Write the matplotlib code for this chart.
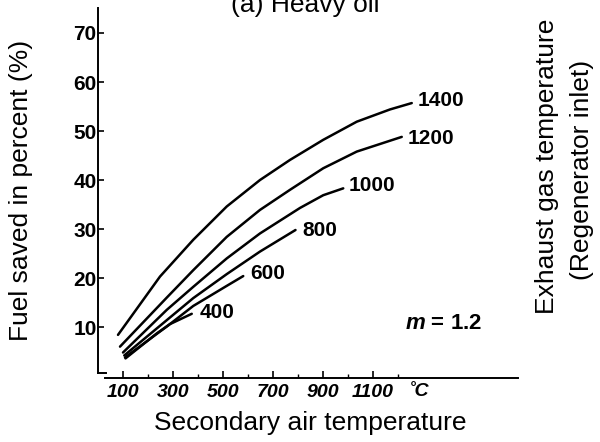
"""Fuel saved vs secondary air temperature, heavy oil (m = 1.2)."""

import matplotlib
matplotlib.use("Agg")
import matplotlib.pyplot as plt

plt.rcParams["font.family"] = ["Liberation Sans", "DejaVu Sans"]
plt.rcParams["mathtext.fontset"] = "custom"
plt.rcParams["mathtext.it"] = "Liberation Sans:italic:bold"

# --------------------------------------------------------------------------- #
# Data (x = secondary air temperature, y = fuel saved %)
# one curve per exhaust gas temperature
# --------------------------------------------------------------------------- #
T_1400 = [80, 248, 381, 515, 648, 768, 901, 1035, 1168, 1255]
V_1400 = [8.4, 20.3, 27.8, 34.6, 40.0, 44.1, 48.2, 51.9, 54.4, 55.7]

T_1200 = [88, 275, 381, 515, 648, 768, 901, 1035, 1215]
V_1200 = [6.0, 16.0, 21.6, 28.4, 33.9, 38.0, 42.4, 45.8, 48.8]

T_1000 = [100, 275, 381, 515, 648, 808, 901, 981]
V_1000 = [4.8, 13.5, 18.2, 24.0, 29.1, 34.3, 36.9, 38.3]

T_800 = [105, 275, 381, 515, 648, 790]
V_800 = [4.2, 11.4, 15.9, 20.8, 25.4, 29.8]

T_600 = [108, 275, 381, 515, 581]
V_600 = [3.8, 10.1, 14.3, 18.4, 20.4]

T_400 = [110, 235, 288, 375]
V_400 = [3.6, 8.7, 10.6, 12.7]

LABELS = ["1400", "1200", "1000", "800", "600", "400"]
SERIES = [(T_1400, V_1400), (T_1200, V_1200), (T_1000, V_1000),
          (T_800, V_800), (T_600, V_600), (T_400, V_400)]
LABEL_POS = [(1280, 56.3), (1240, 48.4), (1004, 38.8),
             (816, 29.6), (608, 21.0), (408, 12.9)]

X_TICKS = [100, 300, 500, 700, 900, 1100]
X_MINOR = [200, 400, 600, 800, 1000, 1200]
Y_TICKS = [10, 20, 30, 40, 50, 60, 70]


def main() -> None:
    fig = plt.figure(figsize=(6.0, 4.42), dpi=100)
    ax = fig.add_axes([98 / 600, 64 / 442, 420 / 600, 370 / 442])

    for label, (xs, ys), (lx, ly) in zip(LABELS, SERIES, LABEL_POS):
        ax.plot(xs, ys, color="black", lw=1.8,
                solid_capstyle="round", solid_joinstyle="round")
        ax.text(lx, ly, label, fontsize=15, fontweight="bold", ha="left", va="center")

    ax.text(1228, 10.8, "$m$ = 1.2", fontsize=16, fontweight="bold",
            ha="left", va="center")

    ax.set_xlim(0, 1680)
    ax.set_ylim(-0.4, 75.1)

    for side in ("top", "right"):
        ax.spines[side].set_visible(False)
    ax.spines["left"].set_bounds(0.6, 75.1)
    ax.spines["bottom"].set_bounds(28, 1680)
    ax.spines["left"].set_linewidth(1.4)
    ax.spines["bottom"].set_linewidth(1.4)
    # little step where the two axis lines meet
    ax.plot([0, 30], [0.6, 0.6], color="black", lw=1.4, clip_on=False)

    ax.set_yticks(Y_TICKS)
    ax.set_yticklabels([str(v) for v in Y_TICKS], fontsize=15, fontweight="bold")
    ax.set_xticks(X_TICKS)
    ax.set_xticklabels([str(v) for v in X_TICKS], fontsize=14,
                       fontweight="bold", fontstyle="italic")
    ax.set_xticks(X_MINOR, minor=True)
    ax.tick_params(axis="y", direction="in", length=4, width=1.2, pad=1)
    ax.tick_params(axis="x", which="major", direction="in", length=5, width=1.2, pad=4)
    ax.tick_params(axis="x", which="minor", direction="in", length=3, width=1.0)

    ax.text(1285, -1.5, "˚C", fontsize=14, fontweight="bold",
            fontstyle="italic", ha="center", va="top")

    fig.text(305 / 600, 1 - 12 / 442, "(a) Heavy oil", fontsize=19,
             ha="center", va="baseline")
    fig.text(310 / 600, 1 - 423 / 442, "Secondary air temperature", fontsize=19,
             ha="center", va="center")
    fig.text(21 / 600, 1 - 190 / 442, "Fuel saved in percent (%)", fontsize=19,
             rotation=90, ha="center", va="center")
    fig.text(547 / 600, 1 - 166 / 442, "Exhaust gas temperature", fontsize=19,
             rotation=90, ha="center", va="center")
    fig.text(582 / 600, 1 - 170 / 442, "(Regenerator inlet)", fontsize=19,
             rotation=90, ha="center", va="center")

    fig.savefig("out.png", dpi=100)
    plt.close(fig)


if __name__ == "__main__":
    main()
